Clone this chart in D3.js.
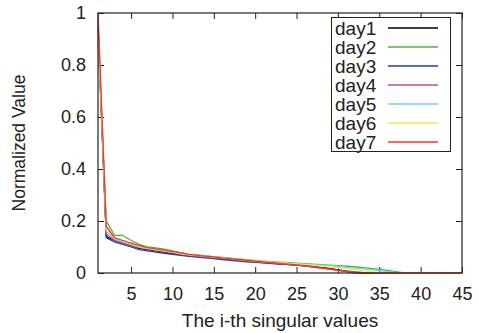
<!DOCTYPE html>
<html>
<head>
<meta charset="utf-8">
<script src="https://d3js.org/d3.v7.min.js"></script>
<style>
body { margin: 0; background: #fff; }
text { font-family: "Liberation Sans", Arial, sans-serif; fill: #222; }
</style>
</head>
<body>
<div id="chart"></div>
<script>
var seriesNames = ["day1", "day2", "day3", "day4", "day5", "day6", "day7"];
var seriesColors = ["#000000", "#4cb33c", "#2040a0", "#b8509a", "#6fd6ea", "#f2ee3a", "#ff3030"];
var xTicks = [5, 10, 15, 20, 25, 30, 35, 40, 45];
var yTicks = [0, 0.2, 0.4, 0.6, 0.8, 1];

var day1 = [0.95, 0.14, 0.125, 0.115, 0.105, 0.095, 0.09, 0.085, 0.08, 0.075, 0.07, 0.067, 0.064, 0.061, 0.058, 0.055, 0.052, 0.049, 0.046, 0.043, 0.04, 0.038, 0.035, 0.033, 0.03, 0.028, 0.025, 0.022, 0.018, 0.012, 0.006, 0.002, 0, 0, 0, 0, 0, 0, 0, 0, 0, 0, 0, 0, 0];
var day2 = [0.9, 0.2, 0.145, 0.145, 0.125, 0.11, 0.1, 0.097, 0.092, 0.085, 0.078, 0.072, 0.07, 0.066, 0.063, 0.06, 0.057, 0.054, 0.051, 0.048, 0.046, 0.044, 0.042, 0.04, 0.038, 0.036, 0.034, 0.032, 0.03, 0.028, 0.026, 0.024, 0.021, 0.018, 0.014, 0.01, 0.005, 0, 0, 0, 0, 0, 0, 0, 0];
var day3 = [0.96, 0.135, 0.12, 0.11, 0.1, 0.09, 0.085, 0.08, 0.076, 0.072, 0.068, 0.064, 0.061, 0.058, 0.055, 0.052, 0.049, 0.046, 0.043, 0.041, 0.039, 0.036, 0.034, 0.032, 0.03, 0.027, 0.024, 0.02, 0.016, 0.012, 0.008, 0.004, 0.001, 0, 0, 0, 0, 0, 0, 0, 0, 0, 0, 0, 0];
var day4 = [0.97, 0.15, 0.125, 0.115, 0.105, 0.098, 0.092, 0.087, 0.082, 0.077, 0.072, 0.068, 0.065, 0.062, 0.059, 0.056, 0.053, 0.05, 0.047, 0.044, 0.041, 0.039, 0.036, 0.033, 0.03, 0.027, 0.023, 0.019, 0.015, 0.01, 0.006, 0.003, 0.001, 0, 0, 0, 0, 0, 0, 0, 0, 0, 0, 0, 0];
var day5 = [0.95, 0.16, 0.13, 0.12, 0.11, 0.1, 0.095, 0.09, 0.085, 0.08, 0.075, 0.07, 0.067, 0.064, 0.061, 0.058, 0.055, 0.052, 0.049, 0.046, 0.044, 0.042, 0.04, 0.038, 0.036, 0.034, 0.032, 0.03, 0.028, 0.025, 0.022, 0.019, 0.016, 0.013, 0.009, 0.005, 0.002, 0, 0, 0, 0, 0, 0, 0, 0];
var day6 = [0.96, 0.17, 0.135, 0.125, 0.112, 0.102, 0.096, 0.09, 0.085, 0.08, 0.075, 0.071, 0.068, 0.065, 0.062, 0.059, 0.056, 0.053, 0.05, 0.047, 0.045, 0.042, 0.04, 0.037, 0.035, 0.032, 0.03, 0.027, 0.024, 0.021, 0.017, 0.013, 0.009, 0.005, 0.002, 0, 0, 0, 0, 0, 0, 0, 0, 0, 0];
var day7 = [1.0, 0.18, 0.135, 0.125, 0.115, 0.105, 0.098, 0.093, 0.088, 0.082, 0.077, 0.072, 0.068, 0.065, 0.062, 0.058, 0.055, 0.052, 0.049, 0.046, 0.043, 0.04, 0.037, 0.034, 0.031, 0.028, 0.024, 0.02, 0.015, 0.01, 0.005, 0.001, 0, 0, 0, 0, 0, 0, 0, 0, 0, 0, 0, 0, 0];
var allDays = [day1, day2, day3, day4, day5, day6, day7];

var width = 479, height = 333;
var margin = {left: 98, right: 17, top: 13, bottom: 60};
var svg = d3.select("#chart").append("svg").attr("width", width).attr("height", height);

var x = d3.scaleLinear().domain([1, 45]).range([margin.left, width - margin.right]);
var y = d3.scaleLinear().domain([0, 1]).range([height - margin.bottom, margin.top]);

// ticks on all four sides, pointing inward (gnuplot style)
var tl = 6;
svg.append("g").attr("transform", "translate(0," + y(0) + ")")
	.call(d3.axisBottom(x).tickValues(xTicks).tickSize(-tl).tickPadding(14).tickFormat(d3.format("d")));
svg.append("g").attr("transform", "translate(0," + y(1) + ")")
	.call(d3.axisTop(x).tickValues(xTicks).tickSize(-tl).tickFormat(""));
svg.append("g").attr("transform", "translate(" + x(1) + ",0)")
	.call(d3.axisLeft(y).tickValues(yTicks).tickSize(-tl).tickPadding(12).tickFormat(function(d) { return d === 0 || d === 1 ? d : d3.format(".1f")(d); }));
svg.append("g").attr("transform", "translate(" + x(45) + ",0)")
	.call(d3.axisRight(y).tickValues(yTicks).tickSize(-tl).tickFormat(""));

svg.selectAll(".domain").remove();
svg.selectAll(".tick line").attr("stroke", "#222");
svg.selectAll(".tick text").style("font-size", "18px").attr("fill", "#222");

var line = d3.line().x(function(d, i) { return x(i + 1); }).y(function(d) { return y(d); });

allDays.forEach(function(vals, k) {
	svg.append("path").datum(vals).attr("d", line)
		.attr("fill", "none").attr("stroke", seriesColors[k]).attr("stroke-width", 1.3);
});

// frame
svg.append("rect").attr("x", x(1)).attr("y", y(1))
	.attr("width", x(45) - x(1)).attr("height", y(0) - y(1))
	.attr("fill", "none").attr("stroke", "#222").attr("stroke-width", 1.2);

// legend
var lg = svg.append("g");
lg.append("rect").attr("x", 331.5).attr("y", 17.5).attr("width", 119).attr("height", 134)
	.attr("fill", "#fff").attr("stroke", "#222");
seriesNames.forEach(function(n, k) {
	var cy = 28 + k * 19;
	lg.append("text").attr("x", 335).attr("y", cy + 6.5).style("font-size", "19px").text(n);
	lg.append("line").attr("x1", 388).attr("x2", 438).attr("y1", cy).attr("y2", cy)
		.attr("stroke", seriesColors[k]).attr("stroke-width", 1.3);
});

svg.append("text").attr("x", (x(1) + x(45)) / 2).attr("y", 327)
	.attr("text-anchor", "middle").style("font-size", "19px").text("The i-th singular values");
svg.append("text").attr("transform", "translate(25," + (y(0.5)) + ") rotate(-90)")
	.attr("text-anchor", "middle").style("font-size", "17.5px").text("Normalized Value");
</script>
</body>
</html>
